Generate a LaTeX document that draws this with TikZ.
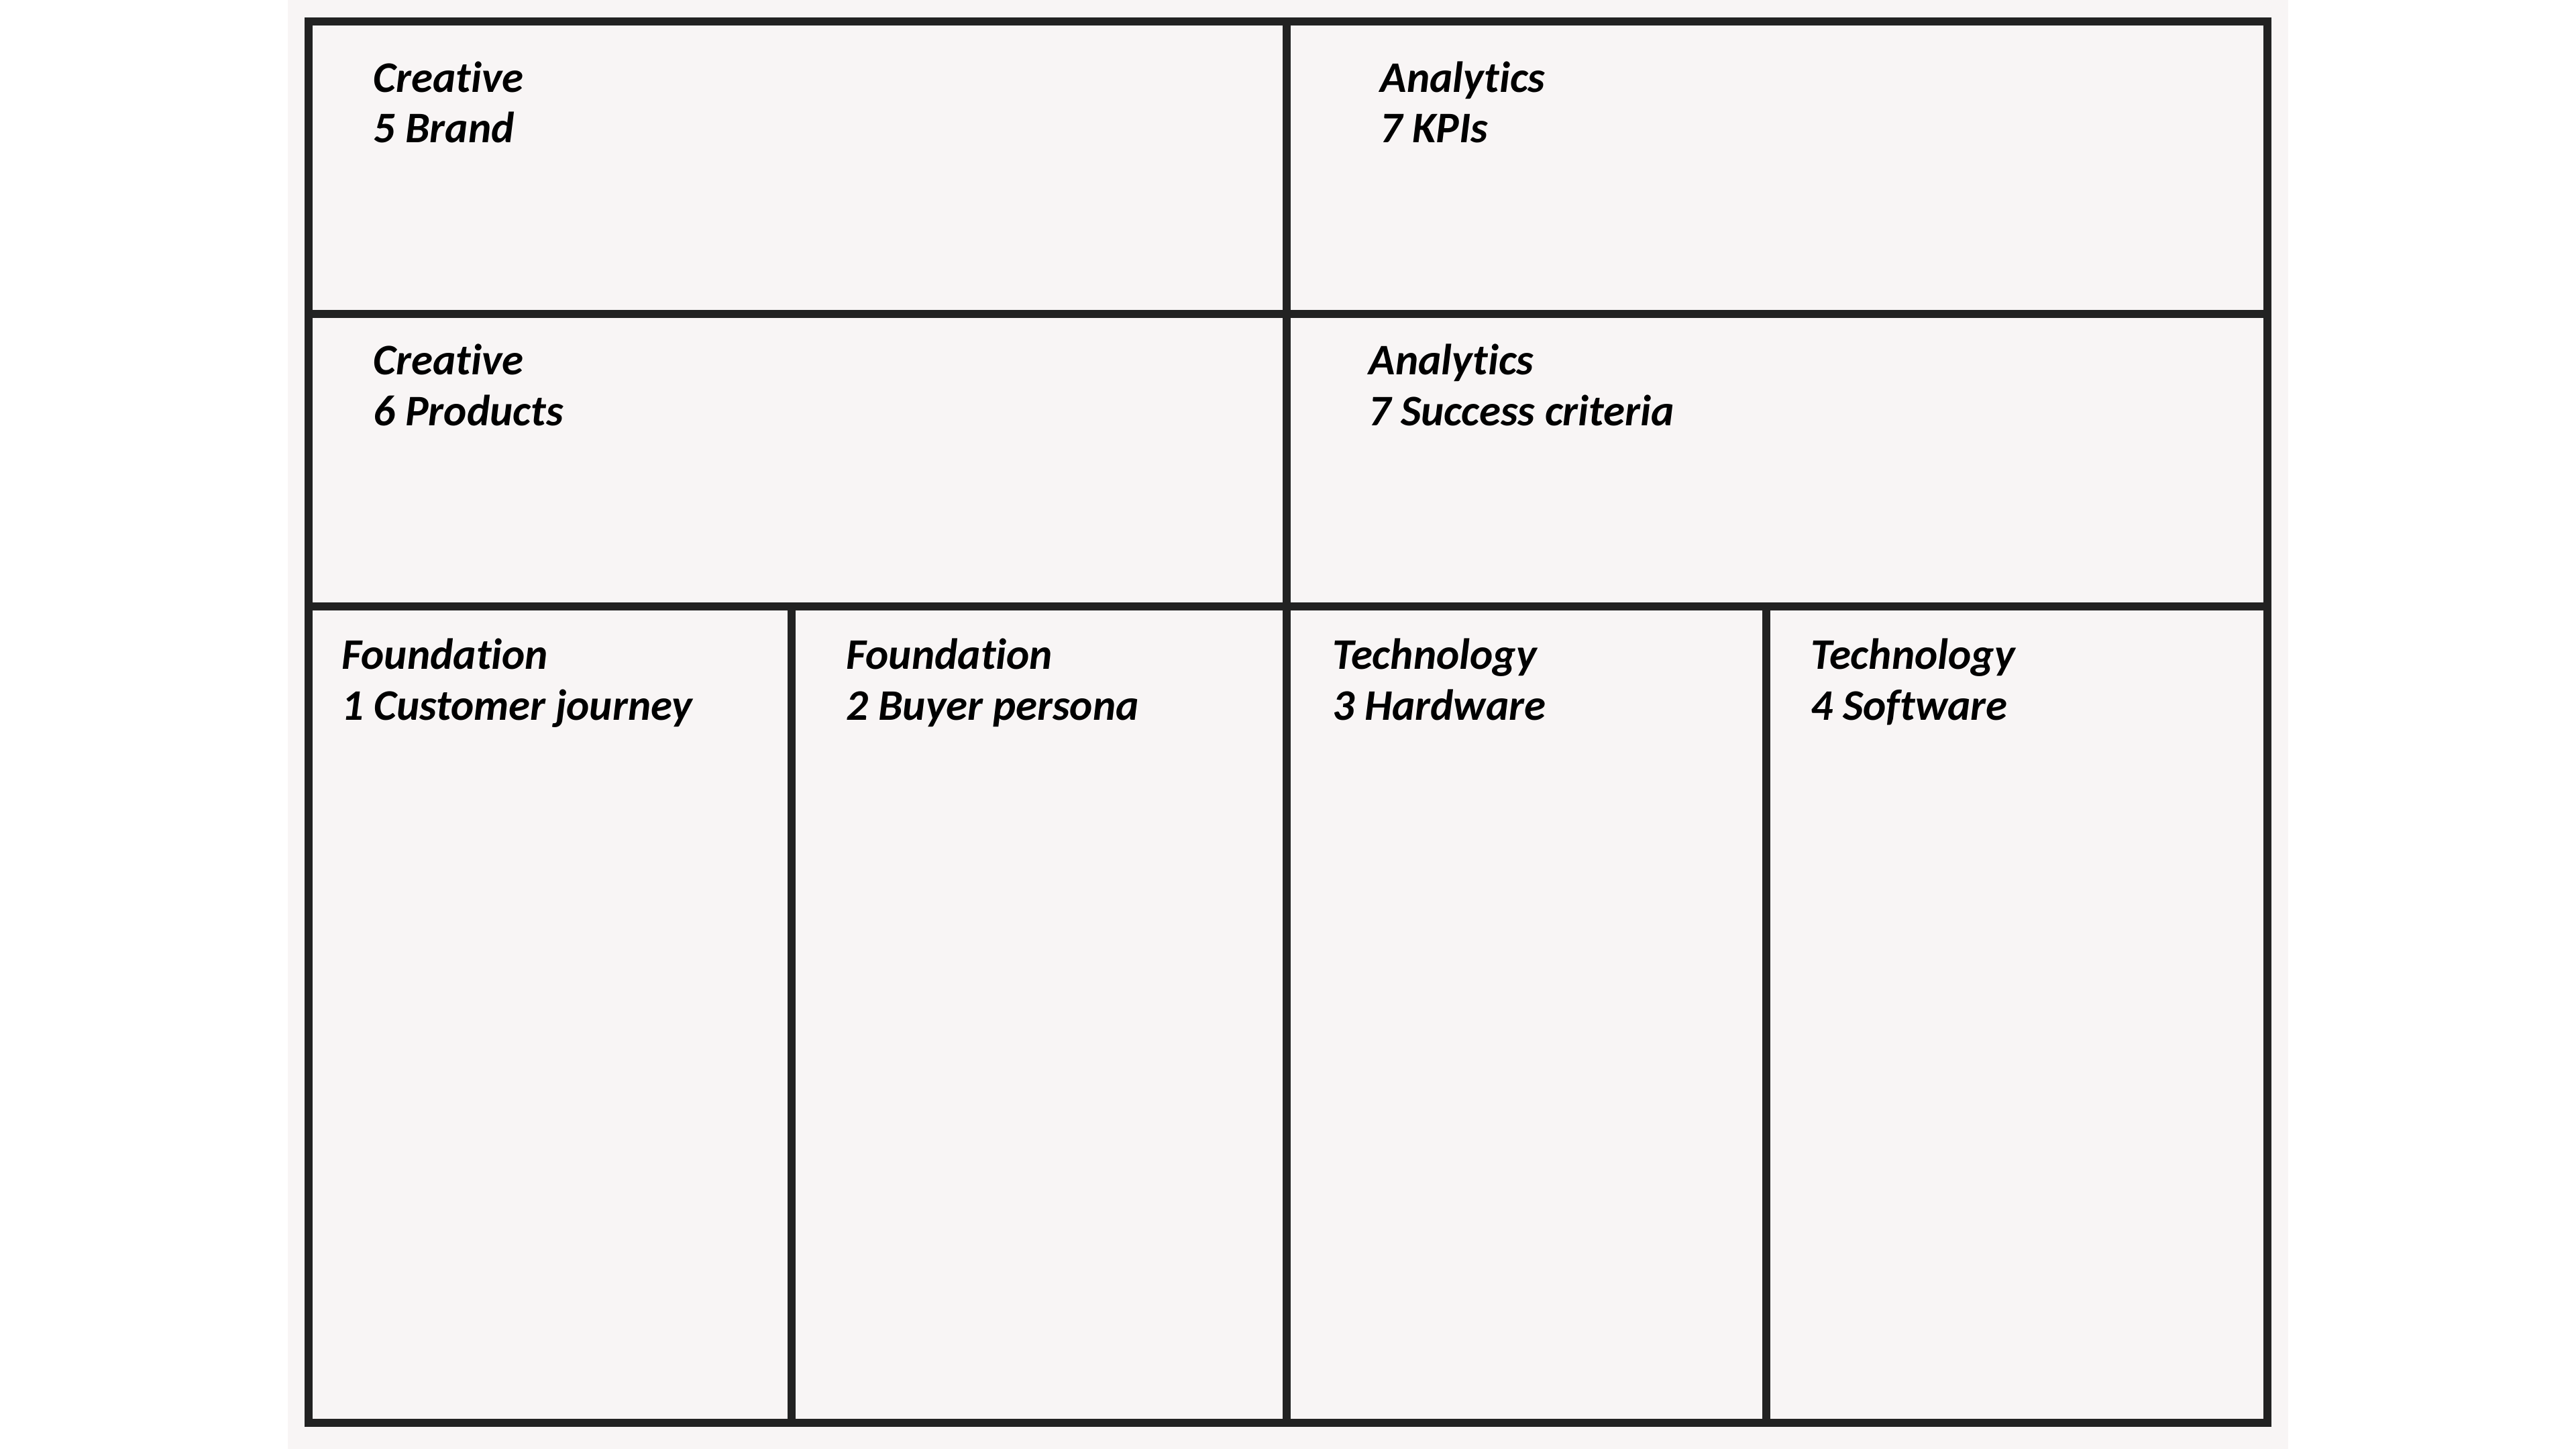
\documentclass[tikz,border=0pt]{standalone}
\usepackage{fontspec}
\setmainfont{Carlito}[Ligatures={NoCommon}]
\usetikzlibrary{calc}
\definecolor{paper}{RGB}{248,245,245}
\definecolor{ink}{RGB}{34,34,34}
\tikzset{
	grid line/.style={draw=ink, line width=1.15mm, line cap=rect},
	cell label/.style={anchor=base west, align=left, inner sep=0pt,
		font=\fontsize{18.5}{21.6}\selectfont\bfseries\itshape}
}

\begin{document}
\begin{tikzpicture}
		%%%%% START %%%%%
		\useasboundingbox (0, 0) rectangle (38.4, -21.6);
		\fill[white] (0, 0) rectangle (38.4, -21.6);
		\fill[paper] (4.29, 0) rectangle (34.11, -21.6);
		
		% frame and dividers
		\draw[grid line] (4.60, -0.32) rectangle (33.80, -21.21);
		\draw[grid line] (4.60, -4.68) -- (33.80, -4.68);
		\draw[grid line] (4.60, -9.04) -- (33.80, -9.04);
		\draw[grid line] (19.18, -0.32) -- (19.18, -21.21);
		\draw[grid line] (11.80, -9.04) -- (11.80, -21.21);
		\draw[grid line] (26.33, -9.04) -- (26.33, -21.21);
		
		% top row
		\node[cell label] (brand) at (5.56, -2.13) {Creative\\5 Brand};
		\node[cell label] (kpis) at (20.57, -2.13) {Analytics\\7 KPIs};
		
		% middle row
		\node[cell label] (products) at (5.56, -6.34) {Creative\\6 Products};
		\node[cell label] (success) at (20.40, -6.34) {Analytics\\7 Success criteria};
		
		% bottom row
		\node[cell label] (journey) at (5.09, -10.73) {Foundation\\1 Customer journey};
		\node[cell label] (persona) at (12.61, -10.73) {Foundation\\2 Buyer persona};
		\node[cell label] (hardware) at (19.86, -10.73) {Technology\\3 Hardware};
		\node[cell label] (software) at (26.99, -10.73) {Technology\\4 Software};
		%%%%% END %%%%%
	\end{tikzpicture}
\end{document}
